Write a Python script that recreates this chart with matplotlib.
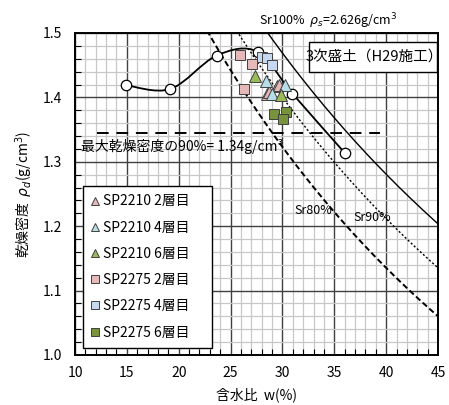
import matplotlib
matplotlib.use("Agg")
import matplotlib.pyplot as plt
from matplotlib.path import Path
from matplotlib.patches import PathPatch, Rectangle
from matplotlib.ticker import MultipleLocator
import numpy as np

plt.rcParams['font.family'] = ['Noto Sans CJK JP', 'DejaVu Sans']
plt.rcParams['mathtext.fontset'] = 'dejavusans'

# ---- data ----
curve_w = [14.9, 19.2, 23.66, 27.6, 30.96, 36.0]
curve_rho = [1.419, 1.413, 1.465, 1.471, 1.406, 1.314]

sp2210_2_w = [28.55, 28.75, 29.5, 29.7]
sp2210_2_rho = [1.406, 1.408, 1.418, 1.420]
sp2210_4_w = [28.4, 30.2, 28.97]
sp2210_4_rho = [1.425, 1.419, 1.405]
sp2210_6_w = [27.4, 29.87]
sp2210_6_rho = [1.433, 1.403]
sp2275_2_w = [25.9, 27.1, 26.3]
sp2275_2_rho = [1.466, 1.452, 1.413]
sp2275_4_w = [28.05, 28.55, 29.0]
sp2275_4_rho = [1.462, 1.461, 1.451]
sp2275_6_w = [29.2, 30.35, 30.1]
sp2275_6_rho = [1.375, 1.378, 1.366]

rho_s = 2.626
sr_levels = [1.0, 0.9, 0.8]
rho90 = 1.345
rho90_range = [12.1, 39.4]

x_ticks = [10, 15, 20, 25, 30, 35, 40, 45]
y_ticks = [1.0, 1.1, 1.2, 1.3, 1.4, 1.5]

# ---- figure ----
fig = plt.figure(figsize=(4.49, 4.05), dpi=100)
ax = fig.add_axes([75/449, 50/405, 363/449, 322/405])
ax.set_xlim(10, 45)
ax.set_ylim(1.0, 1.5)
ax.set_xticks(x_ticks)
ax.set_yticks(y_ticks)
ax.set_yticklabels([f"{v:.1f}" for v in y_ticks])
ax.xaxis.set_minor_locator(MultipleLocator(1))
ax.yaxis.set_minor_locator(MultipleLocator(0.02))
ax.grid(which='minor', color='#c8c8c8', lw=0.9, zorder=0)
ax.grid(which='major', color='#404040', lw=1.0, zorder=0.5)
ax.set_axisbelow(True)
ax.tick_params(which='major', direction='in', length=0, labelsize=10)
ax.tick_params(axis='x', which='major', pad=8)
ax.tick_params(axis='y', which='major', pad=9)
ax.tick_params(which='minor', direction='in', length=4, width=0.8, color='black')
for s in ax.spines.values():
    s.set_linewidth(1.4)
    s.set_color('black')

# Sr lines
wgrid = np.linspace(10, 45, 300)
styles = {1.0: dict(ls='-', lw=1.0), 0.9: dict(ls=(0, (1.5, 1.5)), lw=1.0), 0.8: dict(ls=(0, (3, 1.6)), lw=1.4)}
for sr in sr_levels:
    rd = rho_s / (1 + wgrid / 100 * rho_s / sr)
    ax.plot(wgrid, rd, color='black', zorder=2, **styles[sr])

# 90% line
ax.plot(rho90_range, [rho90, rho90], color='black', lw=1.4, ls=(0, (6, 4)), zorder=2)

# compaction curve (smooth Bezier through points)
P = np.column_stack([curve_w, curve_rho])
n = len(P)
verts = [P[0]]
codes = [Path.MOVETO]
for i in range(n - 1):
    p0 = P[i - 1] if i > 0 else P[i]
    p1 = P[i]
    p2 = P[i + 1]
    p3 = P[i + 2] if i + 2 < n else P[i + 1]
    c1 = p1 + (p2 - p0) / 6
    c2 = p2 - (p3 - p1) / 6
    verts += [c1, c2, p2]
    codes += [Path.CURVE4] * 3
ax.add_patch(PathPatch(Path(verts, codes), fill=False, ec='black', lw=1.3, zorder=3))
ax.plot(curve_w, curve_rho, 'o', ms=7.5, mfc='white', mec='black', mew=0.9, zorder=4)

ec = '#404040'
ms = 8
h1, = ax.plot(sp2210_2_w, sp2210_2_rho, '^', ms=ms, mfc='#E6B9B8', mec=ec, mew=0.7, ls='none', zorder=5, label='SP2210 2層目')
h2, = ax.plot(sp2210_4_w, sp2210_4_rho, '^', ms=ms, mfc='#B7DEE8', mec=ec, mew=0.7, ls='none', zorder=5, label='SP2210 4層目')
h3, = ax.plot(sp2210_6_w, sp2210_6_rho, '^', ms=ms, mfc='#9BBB59', mec=ec, mew=0.7, ls='none', zorder=5, label='SP2210 6層目')
h4, = ax.plot(sp2275_2_w, sp2275_2_rho, 's', ms=7, mfc='#E6B9B8', mec=ec, mew=0.7, ls='none', zorder=5, label='SP2275 2層目')
h5, = ax.plot(sp2275_4_w, sp2275_4_rho, 's', ms=7, mfc='#C6D9F1', mec=ec, mew=0.7, ls='none', zorder=5, label='SP2275 4層目')
h6, = ax.plot(sp2275_6_w, sp2275_6_rho, 's', ms=7, mfc='#77933C', mec=ec, mew=0.7, ls='none', zorder=5, label='SP2275 6層目')

leg = ax.legend(handles=[h1, h2, h3, h4, h5, h6], loc='lower left',
                bbox_to_anchor=(0.021, 0.022, 0.356, 0.494), mode='expand',
                fontsize=10, frameon=True, fancybox=False, edgecolor='black',
                framealpha=1, labelspacing=0.88, handlelength=0.6,
                handletextpad=0.25, borderpad=0.6, markerscale=0.8, borderaxespad=0)
leg.get_frame().set_linewidth(1.0)
leg.set_zorder(6)

# text annotations
ax.text(10.55, 1.323, '最大乾燥密度の90%= 1.34g/cm³', fontsize=10, va='center', ha='left', zorder=3)
ax.text(31.2, 1.224, 'Sr80%', fontsize=9, va='center', ha='left', zorder=3)
ax.text(36.8, 1.213, 'Sr90%', fontsize=9, va='center', ha='left', zorder=3)
ax.text(27.7, 1.518, r'Sr100%  $\rho_{s}$=2.626g/cm$^{3}$', fontsize=9, va='center', ha='left',
        clip_on=False)

ax.add_patch(Rectangle((0.645, 0.879), 0.352, 0.093, transform=ax.transAxes,
                       fc='white', ec='black', lw=1.0, zorder=6))
ax.text(0.825, 0.925, '3次盛土（H29施工）', transform=ax.transAxes, fontsize=10.5,
        ha='center', va='center', zorder=7)

ax.set_xlabel('含水比  w(%)', fontsize=10, labelpad=5)
ax.set_ylabel(r'乾燥密度  $\rho_{d}$(g/cm$^{3}$)', fontsize=10, labelpad=6)

fig.savefig('out.png', dpi=100)
